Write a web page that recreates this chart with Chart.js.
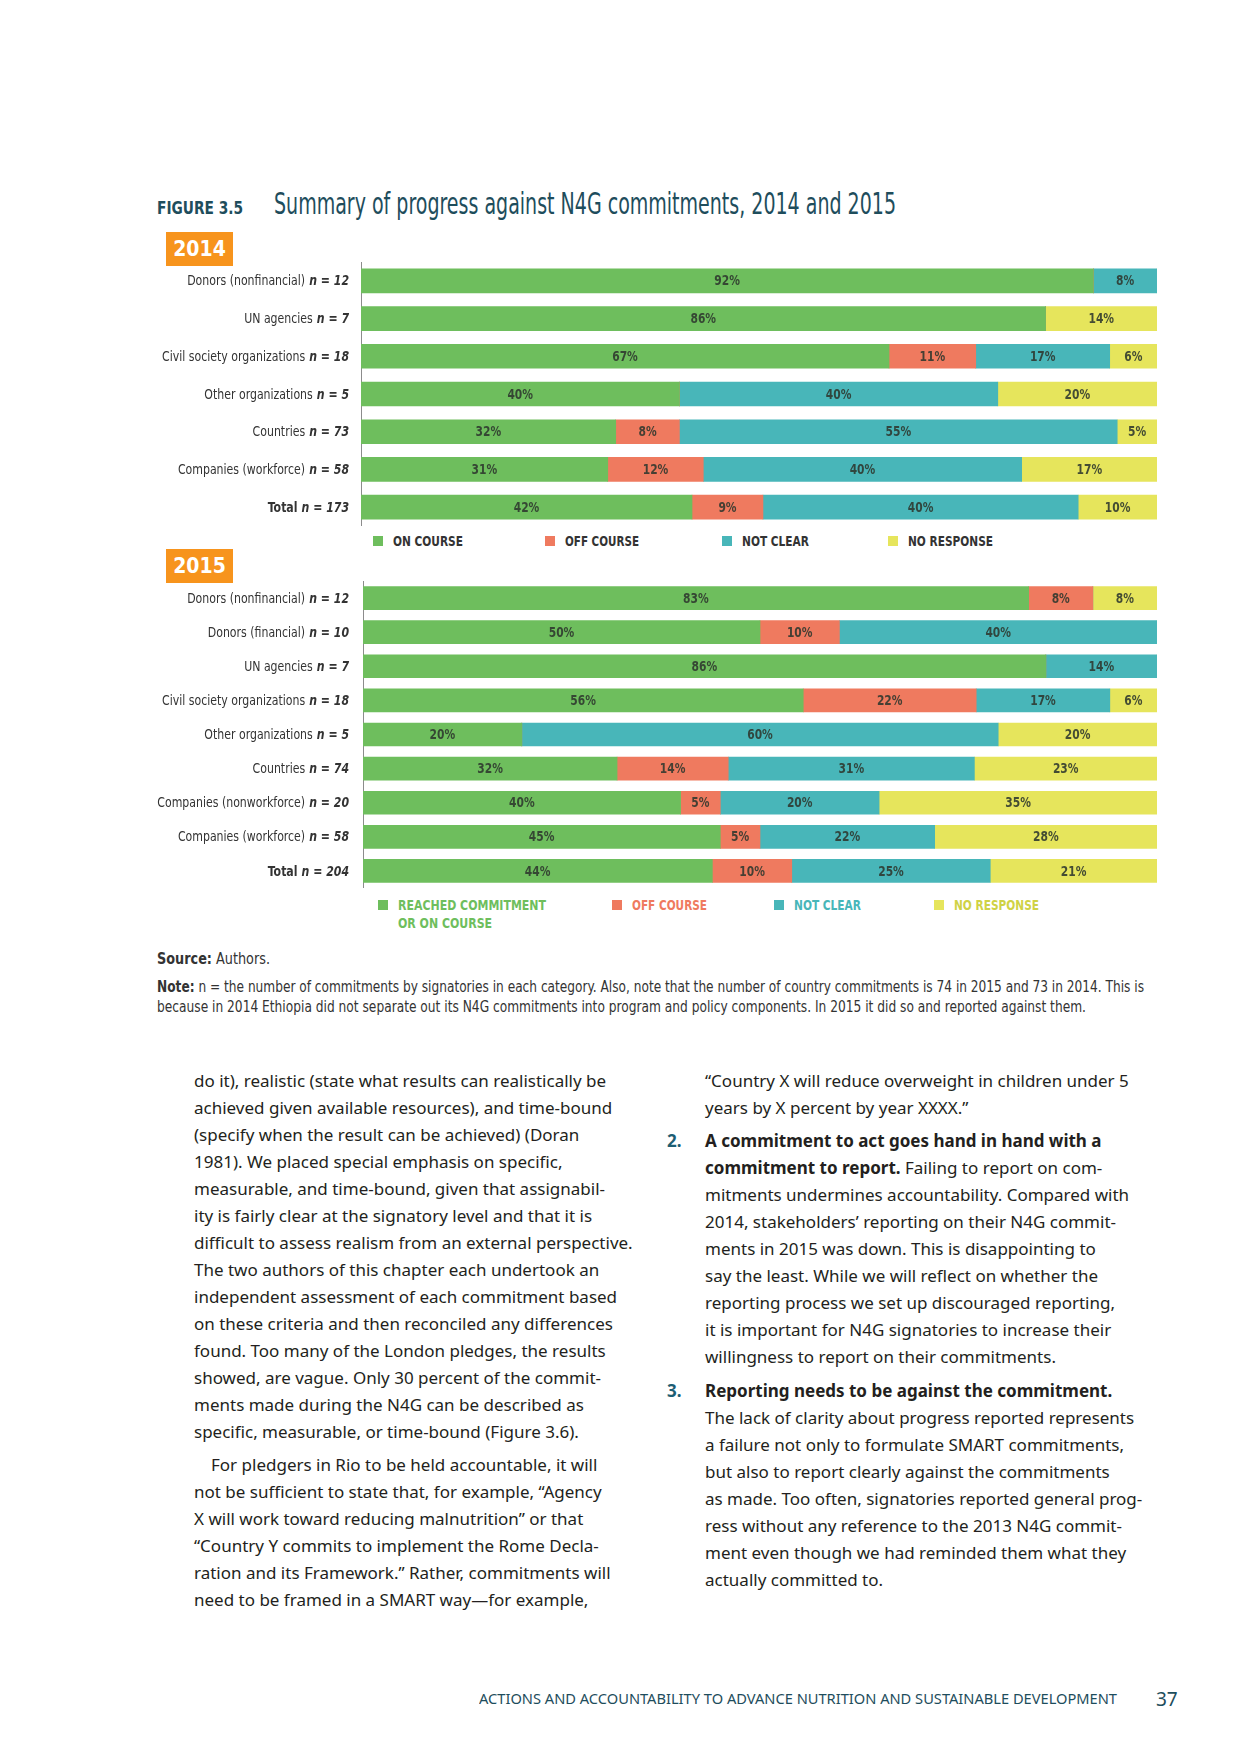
<!DOCTYPE html>
<html>
<head>
<meta charset="utf-8">
<title>Figure 3.5</title>
<script src="https://cdn.jsdelivr.net/npm/chart.js@4.4.1/dist/chart.umd.min.js"></script>
<style>
  body { margin: 0; background: #fff; }
  #page { position: relative; width: 1240px; height: 1754px; overflow: hidden; font-family: 'Noto Sans', sans-serif; color: #231f20; }
  .abs { position: absolute; }
  .cond { font-family: 'DejaVu Sans Condensed', sans-serif; }
  .fit { display: inline-block; transform-origin: 0 50%; white-space: nowrap; }
  .fig { left: 157px; top: 197px; font-size: 18px; font-weight: bold; color: #1e4d5c; }
  .ttl { left: 274px; top: 186px; font-size: 30px; color: #1e4d5c; }
  .year { width: 67px; height: 34px; line-height: 34px; background: #f7941d; color: #fff; font-size: 21px; font-weight: bold; text-align: center; }
  .lg { font-size: 14px; font-weight: bold; line-height: 18px; }
  .lg i { position: absolute; left: -20px; top: 4px; width: 10px; height: 10px; }
  .body { font-size: 17px; line-height: 27px; white-space: nowrap; color: #231f20; }
  .num { position: absolute; left: -38px; font-weight: bold; color: #1d5e73; }
  .src { left: 157px; font-size: 15px; color: #333; line-height: 20px; }
  .foot { color: #1e4d5c; }
</style>
</head>
<body>
<div id="page">
  <div class="abs cond fig"><span class="fit" data-w="86">FIGURE 3.5</span></div>
  <div class="abs cond ttl"><span class="fit" data-w="622">Summary of progress against N4G commitments, 2014 and 2015</span></div>

  <div class="abs cond year" style="left:166px; top:232px;">2014</div>
  <div class="abs" style="left:0; top:262px; width:1170px; height:264px;"><canvas id="chart2014"></canvas></div>
  <div class="abs cond lg" style="left:393px; top:532px; color:#333;"><i style="background:#6ebe5d"></i><span class="fit" data-w="70">ON COURSE</span></div>
  <div class="abs cond lg" style="left:565px; top:532px; color:#333;"><i style="background:#ef7a5f"></i><span class="fit" data-w="74">OFF COURSE</span></div>
  <div class="abs cond lg" style="left:742px; top:532px; color:#333;"><i style="background:#48b6b9"></i><span class="fit" data-w="67">NOT CLEAR</span></div>
  <div class="abs cond lg" style="left:908px; top:532px; color:#333;"><i style="background:#e6e55c"></i><span class="fit" data-w="85">NO RESPONSE</span></div>

  <div class="abs cond year" style="left:166px; top:549px;">2015</div>
  <div class="abs" style="left:0; top:581px; width:1170px; height:307px;"><canvas id="chart2015"></canvas></div>
  <div class="abs cond lg" style="left:398px; top:896px; color:#6ebe5d;"><i style="background:#6ebe5d"></i><span class="fit" data-w="148">REACHED COMMITMENT<br>OR ON COURSE</span></div>
  <div class="abs cond lg" style="left:632px; top:896px; color:#ef7a5f;"><i style="background:#ef7a5f"></i><span class="fit" data-w="75">OFF COURSE</span></div>
  <div class="abs cond lg" style="left:794px; top:896px; color:#48b6b9;"><i style="background:#48b6b9"></i><span class="fit" data-w="67">NOT CLEAR</span></div>
  <div class="abs cond lg" style="left:954px; top:896px; color:#cfd245;"><i style="background:#e6e55c"></i><span class="fit" data-w="85">NO RESPONSE</span></div>

  <div class="abs cond src" style="top:949px;"><span class="fit" data-w="113"><b>Source:</b> Authors.</span></div>
  <div class="abs cond src" style="top:977px;"><span class="fit" data-w="987"><b>Note:</b> n = the number of commitments by signatories in each category. Also, note that the number of country commitments is 74 in 2015 and 73 in 2014. This is</span></div>
  <div class="abs cond src" style="top:997px;"><span class="fit" data-w="929">because in 2014 Ethiopia did not separate out its N4G commitments into program and policy components. In 2015 it did so and reported against them.</span></div>

  <div class="abs body" style="left:194px; top:1067px;">
    <div>do it), realistic (state what results can realistically be</div>
    <div>achieved given available resources), and time-bound</div>
    <div>(specify when the result can be achieved) (Doran</div>
    <div>1981). We placed special emphasis on specific,</div>
    <div>measurable, and time-bound, given that assignabil-</div>
    <div>ity is fairly clear at the signatory level and that it is</div>
    <div>difficult to assess realism from an external perspective.</div>
    <div>The two authors of this chapter each undertook an</div>
    <div>independent assessment of each commitment based</div>
    <div>on these criteria and then reconciled any differences</div>
    <div>found. Too many of the London pledges, the results</div>
    <div>showed, are vague. Only 30 percent of the commit-</div>
    <div>ments made during the N4G can be described as</div>
    <div>specific, measurable, or time-bound (Figure 3.6).</div>
    <div style="margin-top:6px; padding-left:17px;">For pledgers in Rio to be held accountable, it will</div>
    <div>not be sufficient to state that, for example, “Agency</div>
    <div>X will work toward reducing malnutrition” or that</div>
    <div>“Country Y commits to implement the Rome Decla-</div>
    <div>ration and its Framework.” Rather, commitments will</div>
    <div>need to be framed in a SMART way—for example,</div>
  </div>

  <div class="abs body" style="left:705px; top:1067px;">
    <div>“Country X will reduce overweight in children under 5</div>
    <div>years by X percent by year XXXX.”</div>
    <div style="margin-top:6px; position:relative;"><span class="num">2.</span><b>A commitment to act goes hand in hand with a</b></div>
    <div><b>commitment to report.</b> Failing to report on com-</div>
    <div>mitments undermines accountability. Compared with</div>
    <div>2014, stakeholders’ reporting on their N4G commit-</div>
    <div>ments in 2015 was down. This is disappointing to</div>
    <div>say the least. While we will reflect on whether the</div>
    <div>reporting process we set up discouraged reporting,</div>
    <div>it is important for N4G signatories to increase their</div>
    <div>willingness to report on their commitments.</div>
    <div style="margin-top:7px; position:relative;"><span class="num">3.</span><b>Reporting needs to be against the commitment.</b></div>
    <div>The lack of clarity about progress reported represents</div>
    <div>a failure not only to formulate SMART commitments,</div>
    <div>but also to report clearly against the commitments</div>
    <div>as made. Too often, signatories reported general prog-</div>
    <div>ress without any reference to the 2013 N4G commit-</div>
    <div>ment even though we had reminded them what they</div>
    <div>actually committed to.</div>
  </div>

  <div class="abs foot" style="left:479px; top:1689px; font-size:14px;"><span class="fit" data-w="638">ACTIONS AND ACCOUNTABILITY TO ADVANCE NUTRITION AND SUSTAINABLE DEVELOPMENT</span></div>
  <div class="abs foot" style="left:1156px; top:1686px; font-size:19px;">37</div>
</div>

<script>
// squeeze condensed captions to the widths they have in the original page
document.querySelectorAll('.fit').forEach(el => {
  const w = el.getBoundingClientRect().width;
  el.style.transform = 'scaleX(' + (el.dataset.w / w) + ')';
});

const GREEN = '#6ebe5d';
const RED = '#ef7a5f';
const TEAL = '#48b6b9';
const YELLOW = '#e6e55c';
const LABEL_INK = 'rgba(45,55,45,0.88)';
const COND = "'DejaVu Sans Condensed', sans-serif";

// 2014
const CATS_2014 = ['Donors (nonfinancial)', 'UN agencies', 'Civil society organizations', 'Other organizations', 'Countries', 'Companies (workforce)', 'Total'];
const N_2014 = [12, 7, 18, 5, 73, 58, 173];
const ON_2014 = [92, 86, 67, 40, 32, 31, 42];
const OFF_2014 = [0, 0, 11, 0, 8, 12, 9];
const UNCLEAR_2014 = [8, 0, 17, 40, 55, 40, 40];
const NORESP_2014 = [0, 14, 6, 20, 5, 17, 10];

// 2015
const CATS_2015 = ['Donors (nonfinancial)', 'Donors (financial)', 'UN agencies', 'Civil society organizations', 'Other organizations', 'Countries', 'Companies (nonworkforce)', 'Companies (workforce)', 'Total'];
const N_2015 = [12, 10, 7, 18, 5, 74, 20, 58, 204];
const ON_2015 = [83, 50, 86, 56, 20, 32, 40, 45, 44];
const OFF_2015 = [8, 10, 0, 22, 0, 14, 5, 5, 10];
const UNCLEAR_2015 = [0, 40, 14, 17, 60, 31, 20, 22, 25];
const NORESP_2015 = [8, 0, 0, 6, 20, 23, 35, 28, 21];

function squeezed(ctx, text, x, y, sx) {
  ctx.save();
  ctx.translate(x, y);
  ctx.scale(sx, 1);
  ctx.fillText(text, 0, 0);
  ctx.restore();
}

// % labels inside the bars, row names left of the axis
function rowLabels(cats, ns, labelRight) {
  return {
    id: 'rowLabels',
    afterDatasetsDraw(chart) {
      const ctx = chart.ctx;
      ctx.save();
      ctx.textBaseline = 'middle';
      chart.data.datasets.forEach((ds, di) => {
        const meta = chart.getDatasetMeta(di);
        meta.data.forEach((bar, j) => {
          const v = ds.pct[j];
          if (!v) return;
          const p = bar.getProps(['x', 'base', 'y'], true);
          ctx.font = 'bold 14px ' + COND;
          ctx.textAlign = 'center';
          ctx.fillStyle = LABEL_INK;
          squeezed(ctx, v + '%', (p.x + p.base) / 2, p.y + 1, 0.85);
        });
      });
      const yScale = chart.scales.y;
      const sx = 0.87;
      cats.forEach((name, j) => {
        const y = yScale.getPixelForValue(j) + 1;
        const nText = 'n = ' + ns[j];
        ctx.textAlign = 'right';
        ctx.fillStyle = '#333';
        ctx.font = 'italic bold 14px ' + COND;
        squeezed(ctx, nText, labelRight, y, sx);
        const w = ctx.measureText(nText).width * sx;
        ctx.font = (name === 'Total' ? 'bold ' : '') + '14px ' + COND;
        squeezed(ctx, name, labelRight - w - 4, y, sx);
      });
      ctx.restore();
    },
  };
}

function buildChart(id, cats, ns, series, left, barPx) {
  const totals = cats.map((_, i) => series.reduce((s, d) => s + d.values[i], 0));
  return new Chart(document.getElementById(id), {
    type: 'bar',
    data: {
      labels: cats,
      datasets: series.map(s => ({
        label: s.label,
        data: s.values.map((v, i) => v / totals[i] * 100),
        pct: s.values,
        backgroundColor: s.color,
        borderWidth: 0,
        barThickness: barPx,
      })),
    },
    options: {
      indexAxis: 'y',
      responsive: true,
      maintainAspectRatio: false,
      animation: false,
      layout: { padding: { left: left, right: 1170 - 1157, top: 0, bottom: 0 } },
      scales: {
        x: { stacked: true, min: 0, max: 100, display: false },
        y: {
          stacked: true,
          grid: { display: false, drawTicks: false },
          ticks: { display: false },
          border: { display: true, color: '#8c8c8c', width: 1 },
          afterFit: s => { s.width = 0; },
        },
      },
      plugins: { legend: { display: false }, tooltip: { enabled: false } },
    },
    plugins: [rowLabels(cats, ns, 349)],
  });
}

buildChart('chart2014', CATS_2014, N_2014, [
  { label: 'On course', values: ON_2014, color: GREEN },
  { label: 'Off course', values: OFF_2014, color: RED },
  { label: 'Not clear', values: UNCLEAR_2014, color: TEAL },
  { label: 'No response', values: NORESP_2014, color: YELLOW },
], 361, 24);

buildChart('chart2015', CATS_2015, N_2015, [
  { label: 'Reached commitment or on course', values: ON_2015, color: GREEN },
  { label: 'Off course', values: OFF_2015, color: RED },
  { label: 'Not clear', values: UNCLEAR_2015, color: TEAL },
  { label: 'No response', values: NORESP_2015, color: YELLOW },
], 363, 23);
</script>
</body>
</html>
